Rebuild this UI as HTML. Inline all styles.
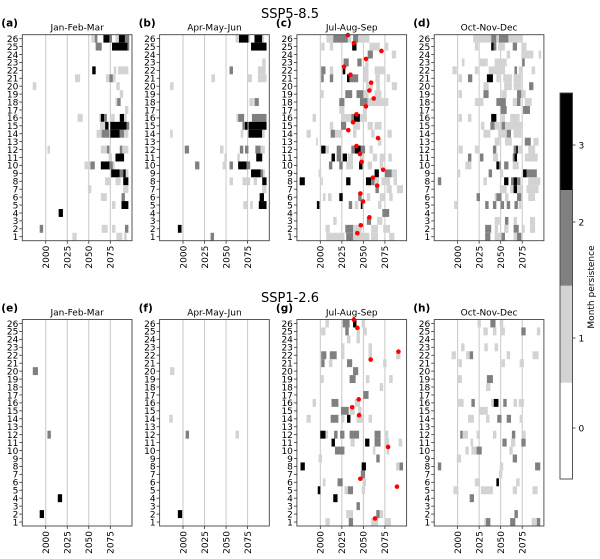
<!DOCTYPE html>
<html><head><meta charset="utf-8">
<style>
html,body{margin:0;padding:0;background:#fff;}
svg{display:block;font-family:"DejaVu Sans","Liberation Sans",sans-serif;}
</style></head>
<body>
<svg id="fig" width="600" height="559" viewBox="0 0 600 559" xmlns="http://www.w3.org/2000/svg">
<text x="290" y="18" font-size="13" text-anchor="middle">SSP5-8.5</text>
<text x="290" y="302" font-size="13" text-anchor="middle">SSP1-2.6</text>
<g id="panels"></g>
<g id="cbar"></g>
</svg>
<script>
const panelLabels = ["(a)","(b)","(c)","(d)","(e)","(f)","(g)","(h)"];
const seasons = ["Jan-Feb-Mar","Apr-May-Jun","Jul-Aug-Sep","Oct-Nov-Dec","Jan-Feb-Mar","Apr-May-Jun","Jul-Aug-Sep","Oct-Nov-Dec"];
const yearTicks = [2000,2025,2050,2075];
const rowTicks = [1,2,3,4,5,6,7,8,9,10,11,12,13,14,15,16,17,18,19,20,21,22,23,24,25,26];
const cbTicks = [0,1,2,3];

const cellsA = ["26|2053-2057:1,2057-2060:2,2067-2074:3,2074-2077:2,2081-2085:1,2085-2092:3,2092-2097:2","25|2058-2065:2,2077-2095:3,2095-2097:2","22|2054-2058:3,2079-2082:1,2084-2096:1","21|2034-2040:1,2070-2074:1,2074-2078:2,2078-2081:1","20|1985-1989:1,2082-2086:1","19|2086-2090:1","18|2081-2083:1,2083-2087:2","17|2092-2096:1","16|2037-2043:1,2062-2064:1,2064-2068:3,2068-2071:2,2076-2080:1,2086-2091:3,2091-2094:1","15|2063-2069:1,2069-2073:3,2075-2094:3,2094-2097:2","14|2059-2065:1,2065-2074:2,2075-2086:3,2086-2091:2,2091-2096:1","12|2002-2005:1,2064-2071:1,2071-2074:2,2086-2089:2,2089-2096:1","11|2073-2077:1,2081-2091:3","10|2045-2052:1,2052-2057:2,2064-2074:3,2074-2078:2,2078-2080:1","9|2076-2086:3,2086-2090:2,2090-2093:3,2093-2096:1","8|2069-2076:1,2081-2087:1,2090-2096:3","7|2049-2053:1,2090-2096:1","6|2064-2071:1,2088-2092:2","5|2077-2081:1,2088-2096:3","4|2015-2020:3","2|1993-1997:2,2065-2072:1,2077-2081:1,2092-2096:2","1|2031-2036:1,2082-2089:1,2091-2094:1"];
const cellsB = ["26|2061-2065:1,2065-2076:3,2076-2078:1,2083-2092:3,2092-2094:1","25|2079-2097:3","23|2092-2096:1","22|2054-2058:2,2087-2096:1","21|2033-2037:1,2075-2080:1,2087-2097:1","20|1985-1989:1","18|2077-2082:1,2083-2088:2","16|2062-2064:1,2064-2071:2,2080-2097:2","15|2069-2072:2,2072-2075:3,2076-2097:3","14|1985-1988:1,2067-2070:1,2076-2092:3,2092-2095:1","12|2002-2007:2,2043-2047:1,2066-2070:2,2072-2076:2,2084-2090:2,2090-2095:1","11|2048-2051:1,2063-2066:1,2085-2092:3","10|2014-2019:2,2046-2050:1,2054-2058:2,2064-2074:3,2074-2078:2","9|2079-2090:3,2090-2093:2,2093-2095:1","8|2054-2058:1,2069-2078:1,2082-2086:1,2092-2097:3","7|2092-2097:1","6|2089-2094:3","5|2070-2075:1,2078-2081:1,2088-2097:3","2|1994-1998:3,1998-1999:2","1|2032-2036:2"];
const cellsC = ["26|2007-2015:1,2015-2032:2,2032-2036:1,2038-2044:2,2044-2057:1","25|2001-2005:1,2011-2015:1,2037-2042:3,2057-2069:1,2075-2079:1","24|2055-2061:2,2083-2088:1","23|2027-2033:2,2043-2048:2,2052-2056:1","22|2001-2006:2,2011-2015:1,2026-2029:3,2050-2056:1,2063-2075:1","21|2001-2004:2,2011-2015:2,2031-2034:3,2034-2044:2,2050-2056:1,2064-2069:1,2077-2081:1","20|2053-2061:1,2065-2069:1,2083-2089:1","19|2000-2004:1,2029-2037:2,2042-2050:2,2050-2056:1,2063-2071:1","18|2022-2028:2,2046-2055:2,2055-2079:1","17|2022-2028:1,2050-2054:1","16|1991-1995:1,2024-2036:1,2036-2039:2,2039-2046:3,2046-2054:1","15|2011-2015:1,2024-2030:2,2038-2046:1,2055-2061:1,2063-2071:1","14|1984-1989:1,2012-2017:2,2017-2024:1,2038-2042:1,2059-2063:1,2078-2083:1","13|1995-1997:1,2067-2071:1","12|2001-2006:3,2006-2010:1,2019-2024:2,2036-2040:2,2040-2047:3,2047-2052:2,2057-2061:1","11|2013-2017:3,2019-2024:2,2026-2031:3,2032-2038:1,2046-2051:1,2061-2066:1,2069-2075:1,2079-2083:1","10|2010-2014:2,2022-2026:2,2030-2038:1,2045-2049:3,2055-2060:1,2069-2073:1","9|1998-2001:1,2063-2068:3,2075-2083:2,2083-2089:1","8|1976-1982:3,2001-2003:1,2030-2035:3,2053-2059:3,2059-2063:2,2063-2068:1,2071-2081:1,2085-2089:1","7|2064-2068:2,2077-2083:1,2089-2096:1","6|2003-2006:1,2009-2013:1,2022-2026:3,2044-2048:2,2054-2058:1,2069-2075:1,2080-2084:1","5|1996-1999:3,2033-2037:2,2040-2044:1,2047-2049:3,2067-2071:1","4|2072-2080:2","3|2015-2019:1,2054-2059:2,2066-2072:1","2|2006-2011:1,2029-2038:2,2038-2048:1,2059-2067:1,2073-2081:1","1|2007-2028:1,2030-2038:2,2038-2057:1,2059-2067:1,2080-2086:1"];
const cellsD = ["26|2018-2039:1,2039-2045:2,2045-2048:1,2048-2059:2,2059-2075:1","25|2020-2024:1,2039-2042:3,2042-2045:2,2047-2055:1,2064-2069:2,2074-2080:1","24|2057-2061:1,2074-2088:1,2094-2097:1","23|2005-2008:1,2026-2035:1,2043-2057:1,2075-2078:2","22|1994-1999:1,2020-2024:1,2036-2055:1,2066-2069:2,2071-2075:1,2086-2090:1","21|2001-2005:1,2012-2017:2,2034-2041:3,2045-2049:1,2053-2063:1,2065-2074:1","20|2030-2036:1,2054-2063:1,2065-2074:1,2083-2088:2","19|2001-2005:1,2030-2036:2,2051-2057:1,2069-2074:2,2075-2079:1","18|2020-2030:1,2045-2056:2,2064-2069:1,2069-2073:2,2078-2086:1","17|2050-2057:2,2076-2084:2","16|2001-2005:1,2012-2016:1,2039-2045:3,2051-2055:1,2061-2072:1","15|2027-2031:1,2038-2043:2,2043-2049:1,2051-2055:2,2055-2075:1","14|2030-2038:1,2047-2057:1,2057-2062:2,2065-2074:1","13|2043-2049:1,2055-2063:1,2078-2085:2,2088-2094:1","12|2001-2006:1,2020-2025:1,2041-2045:2,2065-2068:2,2068-2070:3,2070-2075:1,2082-2090:1","11|2012-2016:2,2026-2030:2,2041-2047:1,2064-2066:2,2066-2069:3,2078-2093:1","10|2009-2016:1,2045-2048:3,2048-2050:2,2054-2059:2,2064-2071:1","9|2000-2003:1,2036-2040:2,2049-2053:1,2076-2080:3,2080-2092:2","8|1977-1981:2,2030-2034:1,2054-2059:3,2062-2065:2,2065-2069:3,2069-2073:2,2082-2096:1","7|2049-2057:1,2061-2065:1,2065-2069:3,2069-2076:1,2080-2094:1","6|2022-2026:2,2043-2045:1,2045-2051:2,2055-2059:1,2069-2074:2,2082-2090:1","5|1996-2000:1,2032-2036:2,2041-2045:2,2050-2054:2,2057-2061:2,2066-2070:2,2071-2074:1","3|2043-2049:1,2055-2059:2,2065-2069:1,2084-2090:1","2|2032-2039:2,2043-2047:1,2054-2059:1,2065-2071:2,2075-2078:1,2084-2090:1","1|2032-2038:2,2043-2051:1,2051-2055:2,2065-2069:1,2069-2074:2"];
const cellsE = ["20|1985-1991:2","12|2002-2006:2","4|2014-2019:3","2|1993-1998:3"];
const cellsF = ["20|1985-1990:1","14|1984-1988:1","12|2003-2007:2,2061-2065:1","2|1994-1999:3"];
const cellsG = ["26|2006-2010:1,2026-2034:2,2038-2042:3,2048-2052:1","25|2001-2006:1,2029-2033:2,2042-2046:1,2050-2054:1","24|2031-2035:1,2042-2046:1","23|2024-2028:1,2056-2060:1","22|2001-2007:2,2011-2019:2,2024-2028:1,2056-2060:1,2088-2093:1","21|2001-2005:2,2010-2014:1,2031-2037:2,2073-2077:1","20|2038-2044:2","19|2000-2004:1,2034-2041:2,2053-2057:1,2080-2084:1","18|2069-2073:1","17|2050-2056:2","16|1991-1995:1,2013-2021:2,2040-2046:1","15|2024-2033:2,2034-2040:1,2044-2048:1","14|1984-1989:1,2012-2021:2,2024-2028:1,2031-2035:3,2042-2050:1,2056-2060:1","12|2000-2006:3,2006-2009:1,2016-2020:2,2023-2028:2,2034-2045:2,2063-2070:2,2075-2079:1","11|2013-2017:3,2035-2040:1,2052-2057:3,2063-2070:2,2075-2080:1,2091-2095:1","10|2017-2028:2,2061-2064:1,2077-2080:1","9|1998-2002:1,2065-2069:2","8|1977-1982:3,2048-2053:3,2088-2092:1,2092-2096:2","7|2047-2052:2","6|2003-2006:1,2020-2026:2,2049-2053:1","5|1997-2000:3,2028-2032:1,2032-2038:2,2048-2052:1","4|2015-2020:3","3|2042-2046:2","2|2030-2038:1,2065-2069:2,2069-2073:1","1|2006-2011:1,2033-2038:2,2059-2067:1,2075-2082:1"];
const cellsH = ["26|2023-2027:1,2038-2044:2,2049-2053:1","25|2030-2035:1,2041-2045:1,2050-2055:1,2074-2079:2,2092-2096:1","23|2004-2008:1,2031-2035:1,2043-2047:1","22|1993-1998:1,2010-2014:1,2014-2018:2,2057-2061:1,2087-2094:1","21|2001-2005:1,2051-2055:1,2072-2077:1","19|2000-2005:1,2034-2041:2","18|2033-2038:1","16|2000-2007:1,2016-2020:2,2039-2042:1,2042-2047:3,2047-2048:2,2053-2057:2,2065-2069:1,2071-2077:1","15|2025-2035:1","14|2012-2019:1,2033-2037:1,2046-2051:2,2057-2062:2,2072-2075:1","12|2003-2006:2,2006-2012:1,2022-2026:1,2041-2045:1,2063-2067:2,2075-2079:1","11|2015-2018:1,2052-2057:2,2062-2067:1,2074-2079:2","10|2009-2013:1,2016-2022:1,2022-2028:2,2060-2064:1","9|1999-2004:1,2064-2069:2","8|1977-1981:2,2049-2053:1,2090-2096:2","7|2048-2052:1","6|2020-2026:1,2045-2048:3,2068-2072:1","5|1995-2001:1,2027-2041:1,2064-2069:1,2087-2093:1","4|2014-2019:2","2|2066-2070:2","1|2031-2033:1,2033-2038:2,2061-2067:2,2086-2092:1,2092-2096:2"];
const panelCells = [cellsA,cellsB,cellsC,cellsD,cellsE,cellsF,cellsG,cellsH];

const dotRowsC = [26,25,24,23,22,21,20,19,18,17,16,15,14,13,12,11,10,9,8,7,6,5,3,2,1];
const dotYearsC = [2032,2039,2071,2053,2027.5,2035,2059,2057,2062,2053,2042,2038,2032.5,2067,2042,2046,2048,2073,2061,2066,2046.5,2049.6,2057,2047,2043];
const dotRowsG = [26,25,22,21,16,15,14,10,6,5,1];
const dotYearsG = [2039,2043,2090.7,2058.5,2044.6,2037,2045,2078.7,2046.5,2089,2063.5];

const NS="http://www.w3.org/2000/svg";
const XMIN=1972.8, XMAX=2100.2, PW=109.7;
const colors=["#ffffff","#d3d3d3","#808080","#000000"];
function mk(tag,attrs,parent){const e=document.createElementNS(NS,tag);for(const k in attrs)e.setAttribute(k,attrs[k]);parent.appendChild(e);return e;}
const root=document.getElementById('panels');

for(let p=0;p<8;p++){
  const col=p%4, rowi=Math.floor(p/4);
  const L=22.3+col*137.3, T=rowi?319.5:34.7, B=rowi?526:240.7;
  const xs=y=>L+(y-XMIN)/(XMAX-XMIN)*PW;
  const ys=r=>B-(r-0.5)/26*(B-T);
  const g=mk('g',{},root);
  
  
  const lab=mk('text',{x:L-21,y:T-8,'font-size':10.5,'font-weight':'bold'},g);
  lab.textContent=panelLabels[p];
  
  
  const st=mk('text',{x:L+PW/2,y:T-4,'font-size':9,'text-anchor':'middle'},g);
  st.textContent=seasons[p];
  
  
  yearTicks.forEach(yr=>{
    const gl=mk('line',{x1:xs(yr),x2:xs(yr),y1:T,y2:B,stroke:'#c8c8c8','stroke-width':1},g);
    
    
  });
  panelCells[p].forEach(s=>{
    const [rs,list]=s.split('|');const r=+rs;
    list.split(',').forEach(c=>{
      const [rng,v]=c.split(':');const [a,b]=rng.split('-').map(Number);
      const rc=mk('rect',{x:xs(a),y:ys(r+0.5),width:xs(b)-xs(a),height:ys(r-0.5)-ys(r+0.5),fill:colors[+v]},g);
      
      
    });
  });
  let dr=null,dy=null;
  if(p===2){dr=dotRowsC;dy=dotYearsC;} if(p===6){dr=dotRowsG;dy=dotYearsG;}
  if(dr){dr.forEach((r,i)=>{
    const d=mk('circle',{cx:xs(dy[i]),cy:ys(r+0.45),r:2.3,fill:'#ff0000'},g);
    
    
  });}
  const fr=mk('rect',{x:L,y:T,width:PW,height:B-T,fill:'none',stroke:'#444','stroke-width':0.9},g);
  
  
  rowTicks.forEach(r=>{
    mk('line',{x1:L-3,x2:L,y1:ys(r),y2:ys(r),stroke:'#333','stroke-width':0.8},g);
    const t=mk('text',{x:L-4,y:ys(r)+3.3,'font-size':9,'text-anchor':'end'},g);
    t.textContent=r;
    
    
  });
  yearTicks.forEach(yr=>{
    mk('line',{x1:xs(yr),x2:xs(yr),y1:B,y2:B+3,stroke:'#333','stroke-width':0.8},g);
    const t=mk('text',{x:0,y:0,'font-size':9,'text-anchor':'end',transform:`translate(${xs(yr)+3.3},${B+5}) rotate(-90)`},g);
    t.textContent=yr;
    
    
  });
}
const cb=document.getElementById('cbar');
const cbX=560, cbW=12.5, cbT=93, cbB=479;
const segBounds=[479,382.7,285.7,190,93];
for(let i=0;i<4;i++){
  const s=mk('rect',{x:cbX,y:segBounds[i+1],width:cbW,height:segBounds[i]-segBounds[i+1],fill:colors[i]},cb);
  
  
}
mk('rect',{x:cbX,y:cbT,width:cbW,height:cbB-cbT,fill:'none',stroke:'#444','stroke-width':0.9},cb);
const cbTickY=[428,338,222,145];
cbTicks.forEach((v,i)=>{
  mk('line',{x1:cbX+cbW,x2:cbX+cbW+3,y1:cbTickY[i],y2:cbTickY[i],stroke:'#333','stroke-width':0.8},cb);
  const t=mk('text',{x:cbX+cbW+6,y:cbTickY[i]+3.3,'font-size':9},cb);
  t.textContent=v;
  
  
});
const cl=mk('text',{x:0,y:0,'font-size':9,'text-anchor':'middle',transform:'translate(594,287) rotate(-90)'},cb);
cl.textContent='Month persistence';


</script>
</body></html>
